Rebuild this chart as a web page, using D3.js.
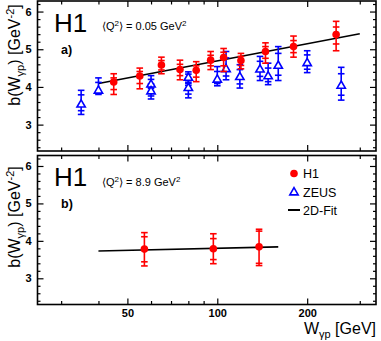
<!DOCTYPE html>
<html><head><meta charset="utf-8">
<script src="https://cdn.jsdelivr.net/npm/d3@7"></script>
<style>body{margin:0;background:#fff}svg{display:block;font-family:"Liberation Sans",Arial,Helvetica,sans-serif}</style>
</head><body><svg id="c" width="381" height="341"></svg>
<script>
// ---- data ----
const xTickLabels = [50, 100, 200];
const xMinorTicks = [30, 40, 60, 70, 80, 90, 300];
const yTickLabels = [3, 4, 5, 6];

// panel a) H1, <Q2> = 0.05
const h1aW       = [45, 55, 65, 75, 85, 95, 105, 120, 145, 180, 250];
const h1aB       = [4.13, 4.29, 4.58, 4.46, 4.44, 4.71, 4.78, 4.70, 4.94, 5.07, 5.39];
const h1aTotUp   = [0.22, 0.21, 0.21, 0.25, 0.23, 0.23, 0.24, 0.19, 0.23, 0.28, 0.35];
const h1aTotDn   = [0.33, 0.34, 0.23, 0.27, 0.30, 0.25, 0.37, 0.22, 0.31, 0.28, 0.43];
const h1aStatUp  = [0.11, 0.12, 0.12, 0.14, 0.12, 0.13, 0.14, 0.11, 0.13, 0.16, 0.20];
const h1aStatDn  = [0.20, 0.20, 0.13, 0.16, 0.18, 0.15, 0.22, 0.13, 0.18, 0.16, 0.25];

// panel a) ZEUS
const zeusW      = [35, 40, 60, 60, 80, 80, 100, 107, 119, 139, 148, 160, 200, 260];
const zeusB      = [3.53, 3.90, 4.06, 3.88, 4.24, 3.97, 4.19, 4.47, 4.26, 4.46, 4.28, 4.56, 4.63, 4.03];
const zeusTotUp  = [0.38, 0.34, 0.24, 0.20, 0.16, 0.20, 0.35, 0.47, 0.33, 0.35, 0.35, 0.51, 0.33, 0.49];
const zeusTotDn  = [0.26, 0.10, 0.18, 0.20, 0.20, 0.26, 0.16, 0.28, 0.29, 0.29, 0.22, 0.39, 0.25, 0.38];
const zeusStatUp = [0.26, 0.22, 0.14, 0.12, 0.10, 0.12, 0.22, 0.30, 0.20, 0.22, 0.22, 0.33, 0.22, 0.32];
const zeusStatDn = [0.16, 0.06, 0.10, 0.12, 0.12, 0.16, 0.10, 0.18, 0.18, 0.18, 0.14, 0.25, 0.16, 0.25];

// 2D fit, panel a)
const fitAW = [40, 300];
const fitAB = [4.09, 5.41];

// panel b) H1, <Q2> = 8.9
const h1bW      = [57, 97, 138];
const h1bB      = [3.78, 3.79, 3.84];
const h1bTotUp  = [0.44, 0.40, 0.47];
const h1bTotDn  = [0.45, 0.40, 0.50];
const h1bStatUp = [0.33, 0.27, 0.42];
const h1bStatDn = [0.34, 0.29, 0.44];

// 2D fit, panel b)
const fitBW = [40, 160];
const fitBB = [3.73, 3.84];

// ---- drawing ----
const RED = "#ff0000", BLUE = "#0000ff";
const svg = d3.select("#c");
const L = 37.5, R = 376;
const x = d3.scaleLog().domain([25, 340]).range([L, R]);
const yDomain = [2.3, 6.28];
const panels = [
  {top: 1, bottom: 151},
  {top: 155.5, bottom: 304.5}
];
panels.forEach(p => { p.y = d3.scaleLinear().domain(yDomain).range([p.bottom, p.top]); });

const yMinorTicks = d3.range(24, 63, 2).map(v => v / 10).filter(v => Math.abs(v - Math.round(v)) > 1e-6);

function frame(p, showXLabels) {
  const g = svg.append("g");
  const axStyle = sel => {
    sel.select(".domain").remove();
    sel.selectAll("line").attr("stroke", "#000").attr("stroke-width", 1.2);
    sel.selectAll("text").attr("font-family", "Liberation Sans, Arial, sans-serif")
      .attr("font-weight", "bold").attr("font-size", 11).attr("fill", "#000");
  };
  // x bottom major
  g.append("g").attr("transform", `translate(0,${p.bottom})`)
    .call(d3.axisBottom(x).tickValues(xTickLabels).tickSize(-6).tickPadding(5)
      .tickFormat(showXLabels ? d3.format("d") : () => ""))
    .call(axStyle);
  g.append("g").attr("transform", `translate(0,${p.bottom})`)
    .call(d3.axisBottom(x).tickValues(xMinorTicks).tickSize(-3.5).tickFormat(() => ""))
    .call(axStyle);
  // x top
  g.append("g").attr("transform", `translate(0,${p.top})`)
    .call(d3.axisTop(x).tickValues(xTickLabels).tickSize(-6).tickFormat(() => ""))
    .call(axStyle);
  g.append("g").attr("transform", `translate(0,${p.top})`)
    .call(d3.axisTop(x).tickValues(xMinorTicks).tickSize(-3.5).tickFormat(() => ""))
    .call(axStyle);
  // y left
  g.append("g").attr("transform", `translate(${L},0)`)
    .call(d3.axisLeft(p.y).tickValues(yTickLabels).tickSize(-6).tickPadding(6).tickFormat(d3.format("d")))
    .call(axStyle);
  g.append("g").attr("transform", `translate(${L},0)`)
    .call(d3.axisLeft(p.y).tickValues(yMinorTicks).tickSize(-3).tickFormat(() => ""))
    .call(axStyle);
  // y right
  g.append("g").attr("transform", `translate(${R},0)`)
    .call(d3.axisRight(p.y).tickValues(yTickLabels).tickSize(-6).tickFormat(() => ""))
    .call(axStyle);
  g.append("g").attr("transform", `translate(${R},0)`)
    .call(d3.axisRight(p.y).tickValues(yMinorTicks).tickSize(-3).tickFormat(() => ""))
    .call(axStyle);
  g.append("rect").attr("x", L).attr("y", p.top).attr("width", R - L).attr("height", p.bottom - p.top)
    .attr("fill", "none").attr("stroke", "#000").attr("stroke-width", 1.6);
}

function fitLine(p, W, B) {
  const pts = W.map((w, i) => [w, B[i]]);
  svg.append("path").attr("d", d3.line().x(d => x(d[0])).y(d => p.y(d[1]))(pts))
    .attr("fill", "none").attr("stroke", "#000").attr("stroke-width", 1.6);
}

function errorBars(p, W, B, tu, td, su, sd, color) {
  const g = svg.append("g").attr("stroke", color).attr("stroke-width", 1.6);
  W.forEach((w, i) => {
    const cx = x(w);
    g.append("line").attr("x1", cx).attr("x2", cx)
      .attr("y1", p.y(B[i] + tu[i])).attr("y2", p.y(B[i] - td[i]));
    [B[i] + tu[i], B[i] - td[i], B[i] + su[i], B[i] - sd[i]].forEach(v => {
      g.append("line").attr("x1", cx - 3.3).attr("x2", cx + 3.3)
        .attr("y1", p.y(v)).attr("y2", p.y(v));
    });
  });
}

frame(panels[0], false);
frame(panels[1], true);

// panel a
fitLine(panels[0], fitAW, fitAB);
errorBars(panels[0], zeusW, zeusB, zeusTotUp, zeusTotDn, zeusStatUp, zeusStatDn, BLUE);
svg.append("g").selectAll("path").data(zeusW).join("path")
  .attr("transform", (w, i) => `translate(${x(w)},${panels[0].y(zeusB[i])})`)
  .attr("d", d3.symbol(d3.symbolTriangle, 30))
  .attr("fill", "#fff").attr("stroke", BLUE).attr("stroke-width", 1.6);
errorBars(panels[0], h1aW, h1aB, h1aTotUp, h1aTotDn, h1aStatUp, h1aStatDn, RED);
svg.append("g").selectAll("circle").data(h1aW).join("circle")
  .attr("cx", w => x(w)).attr("cy", (w, i) => panels[0].y(h1aB[i])).attr("r", 3.8).attr("fill", RED);

// panel b
fitLine(panels[1], fitBW, fitBB);
errorBars(panels[1], h1bW, h1bB, h1bTotUp, h1bTotDn, h1bStatUp, h1bStatDn, RED);
svg.append("g").selectAll("circle").data(h1bW).join("circle")
  .attr("cx", w => x(w)).attr("cy", (w, i) => panels[1].y(h1bB[i])).attr("r", 3.8).attr("fill", RED);

// texts
function txt(xp, yp, size, weight) {
  return svg.append("text").attr("x", xp).attr("y", yp).attr("font-size", size)
    .attr("font-weight", weight || "normal").attr("fill", "#000");
}
txt(54, 32, 26).text("H1");
txt(54, 185.5, 26).text("H1");
txt(61, 53.5, 12.5, "bold").text("a)");
txt(61, 208, 12.5, "bold").text("b)");

function qText(yp, val) {
  const t = txt(102, yp, 11);
  t.append("tspan").text("\u27E8Q");
  t.append("tspan").attr("font-size", 8).attr("dy", -4).text("2");
  t.append("tspan").attr("dy", 4).text(`\u27E9 = ${val} GeV`);
  t.append("tspan").attr("font-size", 8).attr("dy", -4).text("2");
}
qText(30, "0.05");
qText(185.5, "8.9");

function yLabel(cy) {
  const t = svg.append("text").attr("transform", `translate(20,${cy}) rotate(-90)`)
    .attr("text-anchor", "middle").attr("font-size", 16).attr("fill", "#000");
  t.append("tspan").text("b(W");
  t.append("tspan").attr("font-size", 11).attr("dy", 4).text("\u03B3p");
  t.append("tspan").attr("dy", -4).text(") [GeV");
  t.append("tspan").attr("font-size", 11).attr("dy", -6).text("-2");
  t.append("tspan").attr("dy", 6).text("]");
}
yLabel(55);
yLabel(217);

// x label
{
  const t = svg.append("text").attr("x", 376).attr("y", 334).attr("text-anchor", "end")
    .attr("font-size", 16).attr("fill", "#000");
  t.append("tspan").text("W");
  t.append("tspan").attr("font-size", 11).attr("dy", 4).text("\u03B3p");
  t.append("tspan").attr("dy", -4).text(" [GeV]");
}

// legend
const legendLabels = ["H1", "ZEUS", "2D-Fit"];
const lg = svg.append("g");
lg.append("circle").attr("cx", 294).attr("cy", 173.5).attr("r", 3.8).attr("fill", RED);
lg.append("path").attr("transform", "translate(294,192.5)").attr("d", d3.symbol(d3.symbolTriangle, 30))
  .attr("fill", "#fff").attr("stroke", BLUE).attr("stroke-width", 1.6);
lg.append("line").attr("x1", 288).attr("x2", 300).attr("y1", 210).attr("y2", 210)
  .attr("stroke", "#000").attr("stroke-width", 2);
legendLabels.forEach((s, i) => {
  lg.append("text").attr("x", 303).attr("y", 178 + i * 18.5).attr("font-size", 12.5).attr("fill", "#000").text(s);
});
</script></body></html>
